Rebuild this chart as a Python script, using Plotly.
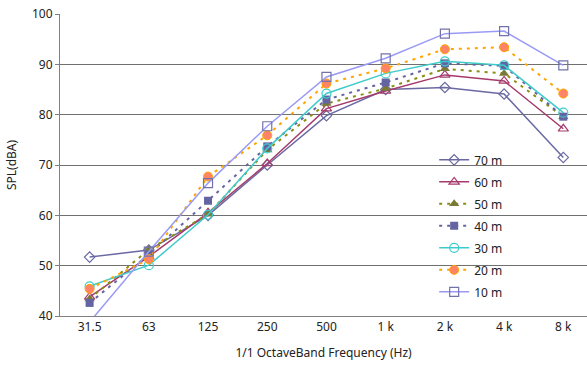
import plotly.graph_objects as go

categories = ["31.5", "63", "125", "250", "500", "1 k", "2 k", "4 k", "8 k"]

spl_70m = [51.7, 53.1, 60.0, 70.0, 79.8, 85.0, 85.4, 84.1, 71.5]
spl_60m = [43.8, 51.8, 60.5, 70.3, 81.2, 84.7, 87.9, 86.7, 77.2]
spl_50m = [43.4, 53.2, 60.2, 73.0, 82.2, 85.2, 89.1, 88.2, 79.6]
spl_40m = [42.6, 52.2, 62.9, 73.7, 83.0, 86.4, 90.2, 89.7, 79.6]
spl_30m = [45.9, 50.1, 60.1, 73.3, 84.2, 88.2, 90.6, 89.8, 80.4]
spl_20m = [45.4, 51.3, 67.7, 75.9, 86.2, 89.2, 93.0, 93.4, 84.2]
spl_10m = [38.8, 52.8, 66.4, 77.7, 87.5, 91.2, 96.1, 96.6, 89.8]

Y_MIN, Y_MAX = 40, 100

series = [
    ("70 m", spl_70m, dict(color="#6A6AA3", width=1.5, dash="solid"),
     dict(symbol="diamond-open", size=8, color="#6A6AA3", line=dict(width=1.2))),
    ("60 m", spl_60m, dict(color="#A53A6C", width=1.5, dash="solid"),
     dict(symbol="triangle-up-open", size=9, color="#A53A6C", line=dict(width=1.2))),
    ("50 m", spl_50m, dict(color="#8C8C10", width=2, dash="3px,5px"),
     dict(symbol="triangle-up", size=9, color="#7A7A38", line=dict(width=0))),
    ("40 m", spl_40m, dict(color="#6464A2", width=2, dash="3px,5px"),
     dict(symbol="square", size=8, color="#6464A2", line=dict(width=0))),
    ("30 m", spl_30m, dict(color="#3FCBCB", width=1.5, dash="solid"),
     dict(symbol="circle-open", size=9, color="#3FCBCB", line=dict(width=1.2))),
    ("20 m", spl_20m, dict(color="#FFA500", width=2, dash="3px,5px"),
     dict(symbol="circle", size=9, color="#FF8366", line=dict(width=1, color="#FFA500"))),
    ("10 m", spl_10m, dict(color="#9A9AF5", width=1.5, dash="solid"),
     dict(symbol="square-open", size=9, color="#7272AA", line=dict(width=1.2))),
]

fig = go.Figure()
for i, (name, vals, line, marker) in enumerate(series):
    fig.add_trace(go.Scatter(
        x=categories, y=vals, name=name, mode="lines+markers",
        line=line, marker=marker, legendgroup=f"g{i}", cliponaxis=True,
    ))

fig.update_layout(
    width=587, height=370,
    margin=dict(l=60, r=0, t=14, b=54),
    paper_bgcolor="white", plot_bgcolor="white",
    font=dict(family="Noto Sans, DejaVu Sans, sans-serif", size=12, color="#222222"),
    showlegend=True,
    legend=dict(
        x=0.71, y=0.565, xanchor="left", yanchor="top",
        bgcolor="rgba(0,0,0,0)", font=dict(size=12),
        tracegroupgap=3, itemwidth=30,
    ),
)
fig.update_xaxes(
    type="category", range=[-0.5, 8.4],
    showgrid=False, showline=True, linecolor="#808080", linewidth=1,
    ticks="", tickfont=dict(size=12),
    title=dict(text="1/1 OctaveBand Frequency (Hz)", font=dict(size=12), standoff=14),
)
fig.update_yaxes(
    range=[Y_MIN, Y_MAX], dtick=10, showgrid=True, gridcolor="#707070", gridwidth=1,
    showline=True, linecolor="#808080", linewidth=1,
    ticks="outside", ticklen=4, tickcolor="#808080", tickfont=dict(size=12),
    zeroline=False,
    title=dict(text="SPL(dBA)", font=dict(size=12), standoff=12),
)

fig.write_html("out.html")
